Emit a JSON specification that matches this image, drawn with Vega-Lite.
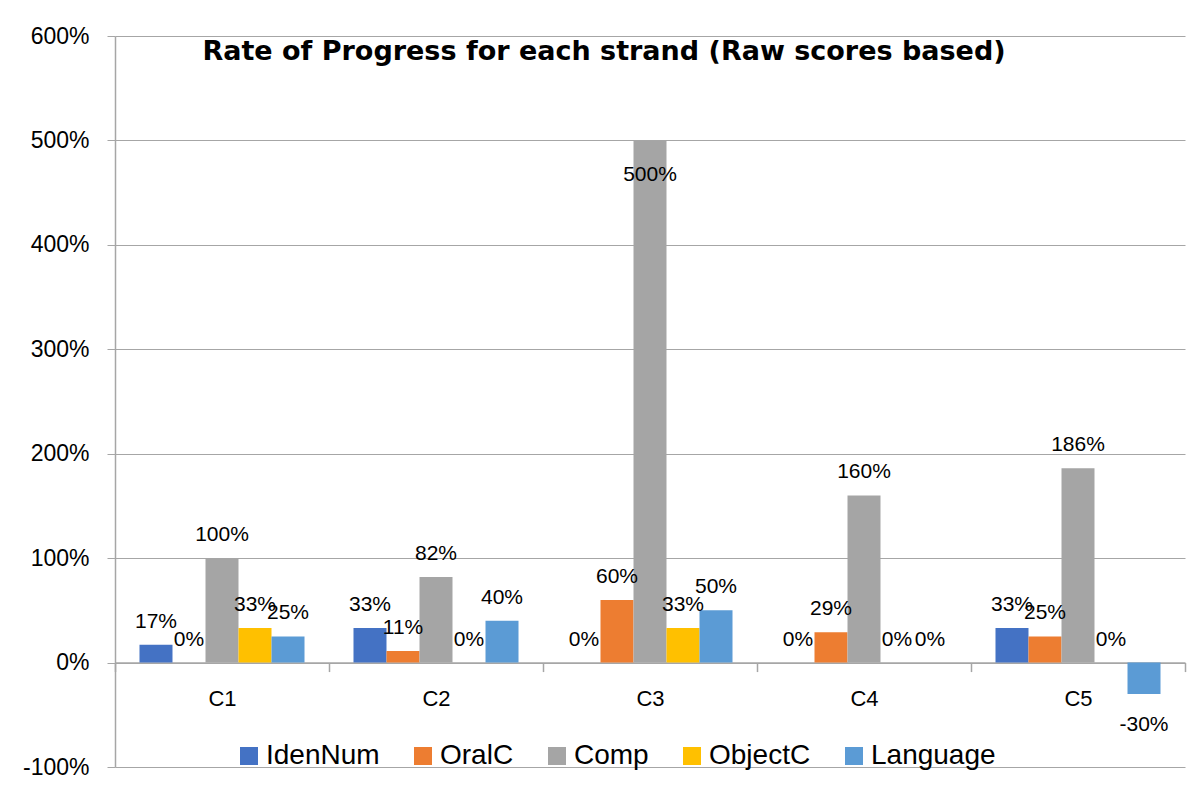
{
  "$schema": "https://vega.github.io/schema/vega-lite/v6.json",
  "width": 1070,
  "height": 731,
  "autosize": {"type": "none"},
  "padding": {"left": 115, "top": 36, "right": 18, "bottom": 27},
  "background": "white",
  "title": {
    "text": "Rate of Progress for each strand (Raw scores based)",
    "font": "DejaVu Sans",
    "fontSize": 27,
    "fontWeight": "bold",
    "color": "#000000",
    "anchor": "middle",
    "frame": "group",
    "offset": -62,
    "dx": -46,
    "baseline": "alphabetic"
  },
  "data": {
    "values": [
      {"cohort": "C1", "strand": "IdenNum", "rate": 0.17},
      {"cohort": "C1", "strand": "OralC", "rate": 0},
      {"cohort": "C1", "strand": "Comp", "rate": 1.0},
      {"cohort": "C1", "strand": "ObjectC", "rate": 0.33},
      {"cohort": "C1", "strand": "Language", "rate": 0.25},
      {"cohort": "C2", "strand": "IdenNum", "rate": 0.33},
      {"cohort": "C2", "strand": "OralC", "rate": 0.11},
      {"cohort": "C2", "strand": "Comp", "rate": 0.82},
      {"cohort": "C2", "strand": "ObjectC", "rate": 0},
      {"cohort": "C2", "strand": "Language", "rate": 0.4},
      {"cohort": "C3", "strand": "IdenNum", "rate": 0},
      {"cohort": "C3", "strand": "OralC", "rate": 0.6},
      {"cohort": "C3", "strand": "Comp", "rate": 5.0},
      {"cohort": "C3", "strand": "ObjectC", "rate": 0.33},
      {"cohort": "C3", "strand": "Language", "rate": 0.5},
      {"cohort": "C4", "strand": "IdenNum", "rate": 0},
      {"cohort": "C4", "strand": "OralC", "rate": 0.29},
      {"cohort": "C4", "strand": "Comp", "rate": 1.6},
      {"cohort": "C4", "strand": "ObjectC", "rate": 0},
      {"cohort": "C4", "strand": "Language", "rate": 0},
      {"cohort": "C5", "strand": "IdenNum", "rate": 0.33},
      {"cohort": "C5", "strand": "OralC", "rate": 0.25},
      {"cohort": "C5", "strand": "Comp", "rate": 1.86},
      {"cohort": "C5", "strand": "ObjectC", "rate": 0},
      {"cohort": "C5", "strand": "Language", "rate": -0.3}
    ]
  },
  "encoding": {
    "x": {
      "field": "cohort",
      "type": "nominal",
      "scale": {"paddingInner": 0, "paddingOuter": 0},
      "axis": {
        "orient": "bottom",
        "offset": -104.43,
        "title": null,
        "labelAngle": 0,
        "tickBand": "extent",
        "tickSize": 9,
        "labelPadding": 17,
        "domainColor": "#A6A6A6",
        "domainWidth": 1.5,
        "tickColor": "#A6A6A6",
        "tickWidth": 1.5,
        "labelFont": "Liberation Sans",
        "labelFontSize": 22,
        "labelColor": "#000000",
        "grid": false
      }
    },
    "xOffset": {
      "field": "strand",
      "type": "nominal",
      "sort": ["IdenNum", "OralC", "Comp", "ObjectC", "Language"],
      "scale": {"paddingInner": 0, "paddingOuter": 0.742}
    },
    "y": {
      "field": "rate",
      "type": "quantitative",
      "scale": {"domain": [-1, 6], "nice": false, "zero": false},
      "axis": {
        "values": [-1, 0, 1, 2, 3, 4, 5, 6],
        "format": ".0%",
        "title": null,
        "labelFont": "Liberation Sans",
        "labelFontSize": 23,
        "labelColor": "#000000",
        "labelPadding": 18,
        "tickSize": 8,
        "tickColor": "#A6A6A6",
        "domainColor": "#A6A6A6",
        "domainWidth": 1.5,
        "grid": true,
        "gridColor": "#A6A6A6",
        "gridWidth": 1,
        "labelOverlap": false,
        "labelFlush": false,
        "labelBound": false
      }
    }
  },
  "layer": [
    {
      "mark": {"type": "bar"},
      "encoding": {
        "color": {
          "field": "strand",
          "type": "nominal",
          "scale": {
            "domain": ["IdenNum", "OralC", "Comp", "ObjectC", "Language"],
            "range": ["#4472C4", "#ED7D31", "#A5A5A5", "#FFC000", "#5B9BD5"]
          },
          "legend": {
            "orient": "none",
            "legendX": 120,
            "legendY": 706,
            "direction": "horizontal",
            "title": null,
            "padding": 0,
            "symbolType": "square",
            "symbolSize": 324,
            "symbolStrokeWidth": 0,
            "labelFont": "Liberation Sans",
            "labelFontSize": 28,
            "labelColor": "#000000",
            "labelOffset": 3,
            "columnPadding": 29,
            "labelLimit": 300
          }
        }
      }
    },
    {
      "transform": [{"filter": "datum.rate >= 0 && datum.rate < 5"}],
      "mark": {"type": "text", "baseline": "alphabetic", "dy": -17, "font": "Liberation Sans", "fontSize": 21, "color": "#000000"},
      "encoding": {"text": {"field": "rate", "type": "quantitative", "format": ".0%"}}
    },
    {
      "transform": [{"filter": "datum.rate >= 5"}],
      "mark": {"type": "text", "baseline": "alphabetic", "dy": 41, "font": "Liberation Sans", "fontSize": 21, "color": "#000000"},
      "encoding": {"text": {"field": "rate", "type": "quantitative", "format": ".0%"}}
    },
    {
      "transform": [{"filter": "datum.rate < 0"}],
      "mark": {"type": "text", "baseline": "alphabetic", "dy": 37, "font": "Liberation Sans", "fontSize": 21, "color": "#000000"},
      "encoding": {"text": {"field": "rate", "type": "quantitative", "format": ".0%"}}
    }
  ],
  "config": {
    "view": {"stroke": null},
    "font": "Liberation Sans",
    "locale": {
      "number": {
        "decimal": ".",
        "thousands": ",",
        "grouping": [3],
        "currency": ["$", ""],
        "minus": "-"
      }
    }
  }
}
